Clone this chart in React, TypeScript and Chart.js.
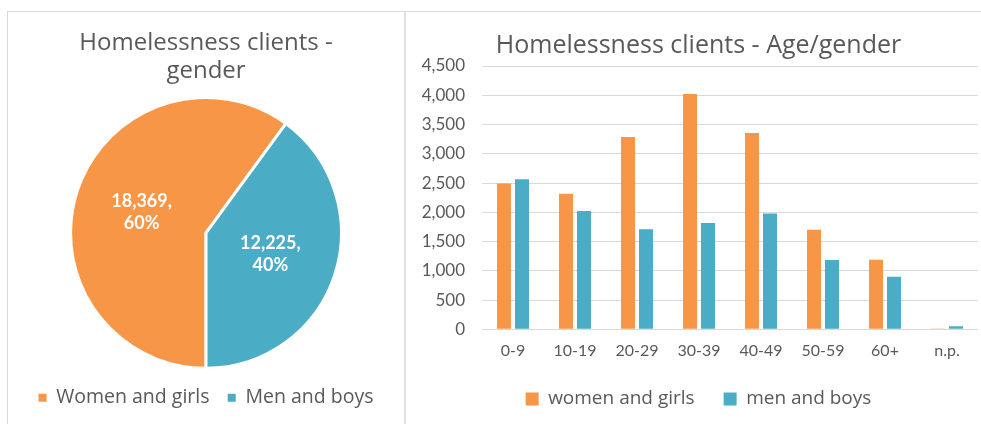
import React, { useEffect, useRef } from 'react';
import { Chart, registerables } from 'chart.js';

Chart.register(...registerables);

// ---- data ----
const genderLabels = ['Women and girls', 'Men and boys'];
const genderValues = [18369, 12225];

const ageCategories = ['0-9', '10-19', '20-29', '30-39', '40-49', '50-59', '60+', 'n.p.'];
const womenValues = [2490, 2315, 3285, 4020, 3355, 1700, 1190, 14];
const menValues = [2565, 2020, 1710, 1815, 1980, 1185, 900, 50];
const seriesLabels = ['women and girls', 'men and boys'];

const pieTitle = ['Homelessness clients -', 'gender'];
const barTitle = 'Homelessness clients - Age/gender';

// ---- styles ----
const ORANGE = '#F79646';
const BLUE = '#4BACC6';
const TEXT = '#595959';
const GRID = '#D9D9D9';
const FONT = '"Open Sans", Lato, sans-serif';
const TICK_FONT = 'Lato, "Open Sans", sans-serif';

const pieLabelPlugin = {
  id: 'pieLabels',
  afterDatasetsDraw(chart: any) {
    const { ctx } = chart;
    const meta = chart.getDatasetMeta(0);
    const data = chart.data.datasets[0].data as number[];
    const total = data.reduce((a, b) => a + b, 0);
    ctx.save();
    ctx.font = `bold 18px ${TICK_FONT}`;
    ctx.fillStyle = '#ffffff';
    ctx.textAlign = 'center';
    ctx.textBaseline = 'middle';
    meta.data.forEach((arc: any, i: number) => {
      const p = arc.tooltipPosition(false);
      const v = data[i];
      ctx.fillText(v.toLocaleString('en-US') + ',', p.x, p.y - 11);
      ctx.fillText(Math.round((v / total) * 100) + '%', p.x, p.y + 11);
    });
    ctx.restore();
  },
};

function PieChart() {
  const ref = useRef<HTMLCanvasElement>(null);
  useEffect(() => {
    if (!ref.current) return;
    const chart = new Chart(ref.current, {
      type: 'pie',
      data: {
        labels: genderLabels,
        datasets: [
          {
            data: genderValues,
            backgroundColor: [ORANGE, BLUE],
            borderColor: '#ffffff',
            borderWidth: 3,
          },
        ],
      },
      options: {
        animation: false,
        responsive: true,
        maintainAspectRatio: false,
        rotation: 180,
        layout: { padding: { bottom: 6.5 } },
        plugins: {
          title: {
            display: true,
            text: pieTitle,
            color: TEXT,
            font: { family: FONT, size: 24, weight: 'normal', lineHeight: 1.2 },
            padding: { top: 16.3, bottom: 10.1 },
          },
          legend: {
            position: 'bottom',
            labels: {
              color: TEXT,
              font: { family: FONT, size: 19.5 },
              boxWidth: 8,
              boxHeight: 8,
              padding: 18.2,
              generateLabels: (c: any) =>
                (Chart as any).overrides.pie.plugins.legend.labels
                  .generateLabels(c)
                  .map((it: any) => ({ ...it, lineWidth: 0 })),
            },
          },
          tooltip: { enabled: false },
        },
      } as any,
      plugins: [pieLabelPlugin],
    });
    return () => chart.destroy();
  }, []);
  return <canvas ref={ref} />;
}

function BarChart() {
  const ref = useRef<HTMLCanvasElement>(null);
  useEffect(() => {
    if (!ref.current) return;
    const chart = new Chart(ref.current, {
      type: 'bar',
      data: {
        labels: ageCategories,
        datasets: [
          {
            label: seriesLabels[0],
            data: womenValues,
            backgroundColor: ORANGE,
            categoryPercentage: 0.58,
            barPercentage: 0.78,
          },
          {
            label: seriesLabels[1],
            data: menValues,
            backgroundColor: BLUE,
            categoryPercentage: 0.58,
            barPercentage: 0.78,
          },
        ],
      },
      options: {
        animation: false,
        responsive: true,
        maintainAspectRatio: false,
        locale: 'en-US',
        layout: { padding: { left: 13, right: 3, top: 0, bottom: 5.5 } },
        scales: {
          x: {
            grid: {
              display: true,
              color: 'transparent',
              drawTicks: true,
              tickLength: 12,
              tickColor: 'transparent',
            },
            border: { display: false },
            ticks: { color: TEXT, font: { family: TICK_FONT, size: 16 }, padding: 0 },
          },
          y: {
            min: 0,
            max: 4500,
            ticks: {
              stepSize: 500,
              color: TEXT,
              font: { family: TICK_FONT, size: 17 },
              padding: 17,
            },
            grid: { color: GRID, drawTicks: false, lineWidth: 1 },
            border: { display: false },
            afterFit: (s: any) => {
              s.width = 63;
            },
          },
        },
        plugins: {
          title: {
            display: true,
            text: barTitle,
            color: TEXT,
            font: { family: FONT, size: 25, weight: 'normal', lineHeight: 1.2 },
            padding: { top: 19, bottom: 5 },
          },
          legend: {
            position: 'bottom',
            labels: {
              color: TEXT,
              font: { family: FONT, size: 19 },
              boxWidth: 13,
              boxHeight: 13,
              padding: 29,
            },
          },
          tooltip: { enabled: false },
        },
      } as any,
    });
    return () => chart.destroy();
  }, []);
  return <canvas ref={ref} />;
}

export default function App() {
  return (
    <div
      style={{
        position: 'fixed',
        left: 0,
        top: 0,
        width: 981,
        height: 424,
        background: '#ffffff',
        overflow: 'hidden',
      }}
    >
      <div style={{ position: 'absolute', left: 7, top: 11, width: 974, height: 1, background: GRID }} />
      <div style={{ position: 'absolute', left: 7, top: 11, width: 1, height: 413, background: GRID }} />
      <div style={{ position: 'absolute', left: 404, top: 11, width: 2, height: 413, background: '#E0E0E0' }} />
      <div style={{ position: 'absolute', left: 8, top: 12, width: 396, height: 412 }}>
        <PieChart />
      </div>
      <div style={{ position: 'absolute', left: 406, top: 12, width: 575, height: 412 }}>
        <BarChart />
      </div>
    </div>
  );
}
